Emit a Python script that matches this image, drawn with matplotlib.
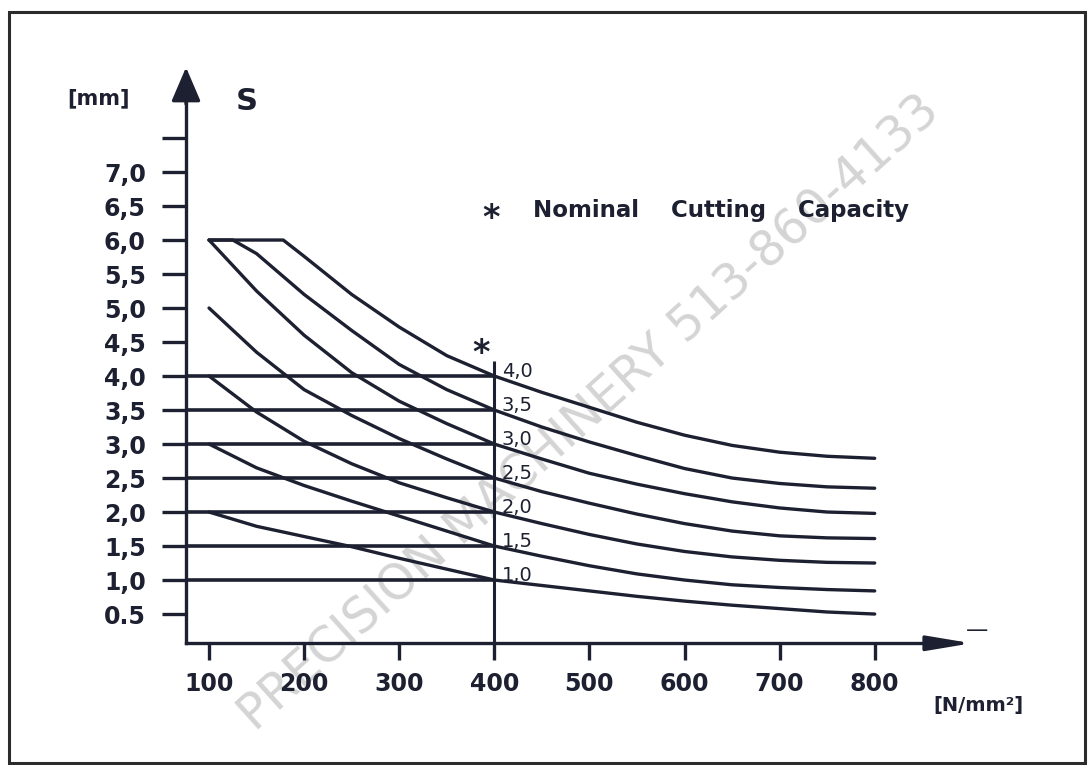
import matplotlib
matplotlib.use("Agg")
import matplotlib.pyplot as plt
from matplotlib.patches import Rectangle

# Curves: sheet thickness S [mm] against tensile strength [N/mm²]
x_main = [100, 150, 200, 250, 300, 350, 400, 450, 500, 550, 600, 650, 700, 750, 800]
s10 = [2.0, 1.79, 1.64, 1.49, 1.32, 1.16, 1.0, 0.92, 0.84, 0.76, 0.69, 0.63, 0.58, 0.53, 0.5]
s15 = [3.0, 2.65, 2.39, 2.16, 1.94, 1.72, 1.5, 1.35, 1.21, 1.09, 1.0, 0.93, 0.89, 0.86, 0.84]
s20 = [4.0, 3.47, 3.04, 2.71, 2.43, 2.21, 2.0, 1.83, 1.67, 1.53, 1.42, 1.34, 1.29, 1.26, 1.25]
s25 = [5.0, 4.35, 3.8, 3.42, 3.08, 2.78, 2.5, 2.3, 2.13, 1.97, 1.83, 1.72, 1.65, 1.62, 1.61]
s30 = [6.0, 5.25, 4.6, 4.05, 3.63, 3.3, 3.0, 2.78, 2.57, 2.41, 2.27, 2.15, 2.06, 2.0, 1.98]
x35 = [100, 125, 150, 200, 250, 300, 350, 400, 450, 500, 550, 600, 650, 700, 750, 800]
s35 = [6.0, 6.0, 5.8, 5.2, 4.67, 4.17, 3.8, 3.5, 3.25, 3.03, 2.83, 2.64, 2.5, 2.42, 2.37, 2.35]
x40 = [100, 178, 200, 250, 300, 350, 400, 450, 500, 550, 600, 650, 700, 750, 800]
s40 = [6.0, 6.0, 5.76, 5.2, 4.72, 4.3, 4.0, 3.76, 3.54, 3.32, 3.13, 2.98, 2.88, 2.82, 2.79]

levels = [1.0, 1.5, 2.0, 2.5, 3.0, 3.5, 4.0]
level_labels = ["1,0", "1,5", "2,0", "2,5", "3,0", "3,5", "4,0"]
nominal_x = 400

x_ticks = [100, 200, 300, 400, 500, 600, 700, 800]
y_ticks = [0.5, 1.0, 1.5, 2.0, 2.5, 3.0, 3.5, 4.0, 4.5, 5.0, 5.5, 6.0, 6.5, 7.0, 7.5]
y_tick_labels = ["0.5", "1,0", "1,5", "2,0", "2,5", "3,0", "3,5", "4,0",
                 "4,5", "5,0", "5,5", "6,0", "6,5", "7,0", ""]

ink = "#1d2030"
lw = 2.4
x_axis_pos = 0.07   # where the x axis crosses
y_axis_pos = 75.8   # where the y axis crosses

fig = plt.figure(figsize=(10.92, 7.65), dpi=100)
ax = fig.add_axes([0.1566, 0.1529, 0.7576, 0.8])
ax.set_facecolor("none")
ax.set_xlim(60, 930)
ax.set_ylim(0, 9)

# watermark behind everything
fig.text(0.54, 0.46, "PRECISION MACHINERY 513-860-4133", rotation=42,
         fontsize=35, color="#d4d4d4", ha="center", va="center",
         rotation_mode="anchor", zorder=-1)

# curves
for xs, ys in [(x_main, s10), (x_main, s15), (x_main, s20), (x_main, s25),
               (x_main, s30), (x35, s35), (x40, s40)]:
    ax.plot(xs, ys, color=ink, lw=lw, solid_capstyle="round", solid_joinstyle="round")

# reference lines and labels at 400 N/mm²
ax.hlines(levels, y_axis_pos, nominal_x, color=ink, lw=2.6)
ax.vlines(nominal_x, x_axis_pos, 4.22, color=ink, lw=2.2)
for lvl, lab in zip(levels, level_labels):
    ax.text(nominal_x + 8, lvl - 0.02, lab, fontsize=14, color=ink,
            ha="left", va="baseline")

# axes with arrows
for side in ["top", "right"]:
    ax.spines[side].set_visible(False)
ax.spines["left"].set_position(("data", y_axis_pos))
ax.spines["bottom"].set_position(("data", x_axis_pos))
ax.spines["left"].set_bounds(x_axis_pos, 8.1)
ax.spines["bottom"].set_bounds(y_axis_pos, 870)
for side in ["left", "bottom"]:
    ax.spines[side].set_linewidth(2.4)
    ax.spines[side].set_color(ink)

ax.annotate("", xy=(y_axis_pos, 8.54), xytext=(y_axis_pos, 8.0),
            arrowprops=dict(arrowstyle="-|>,head_length=1.4,head_width=0.6",
                            color=ink, lw=2.4, shrinkA=0, shrinkB=0, mutation_scale=15))
ax.annotate("", xy=(902, x_axis_pos), xytext=(860, x_axis_pos),
            arrowprops=dict(arrowstyle="-|>,head_length=1.8,head_width=0.3",
                            color=ink, lw=2.4, shrinkA=0, shrinkB=0, mutation_scale=15))

ax.set_xticks(x_ticks)
ax.set_yticks(y_ticks)
ax.set_yticklabels(y_tick_labels)
ax.tick_params(axis="y", length=17, width=2.4, pad=12, labelsize=17,
               color=ink, labelcolor=ink)
ax.tick_params(axis="x", length=12, width=2.4, pad=9, labelsize=17,
               color=ink, labelcolor=ink)
for lbl in ax.get_xticklabels() + ax.get_yticklabels():
    lbl.set_fontweight("bold")

# axis titles
ax.text(140, 8.04, "S", fontsize=22, fontweight="bold", color=ink,
        ha="center", va="center")
ax.text(-16.7, 8.09, "[mm]", fontsize=15, fontweight="bold", color=ink,
        ha="center", va="center")
ax.text(908.6, -0.84, "[N/mm²]", fontsize=14, fontweight="bold", color=ink,
        ha="center", va="center")
ax.text(908, 0.26, "—", fontsize=16, color=ink, ha="center", va="center")

# nominal cutting capacity marker and note
ax.text(386, 4.19, "*", fontsize=24, fontweight="bold", color=ink,
        ha="center", va="baseline")
ax.text(396.5, 6.18, "*", fontsize=24, fontweight="bold", color=ink,
        ha="center", va="baseline")
ax.text(440.7, 6.43, "Nominal    Cutting    Capacity", fontsize=16.5,
        fontweight="bold", color=ink, ha="left", va="center")

# scanned page frame
fig.add_artist(Rectangle((9 / 1092, 2 / 765), 1076 / 1092, 751 / 765,
                         transform=fig.transFigure, fill=False,
                         lw=2.2, edgecolor="#2b2b2b"))

fig.savefig("out.png", dpi=100, facecolor="white")
